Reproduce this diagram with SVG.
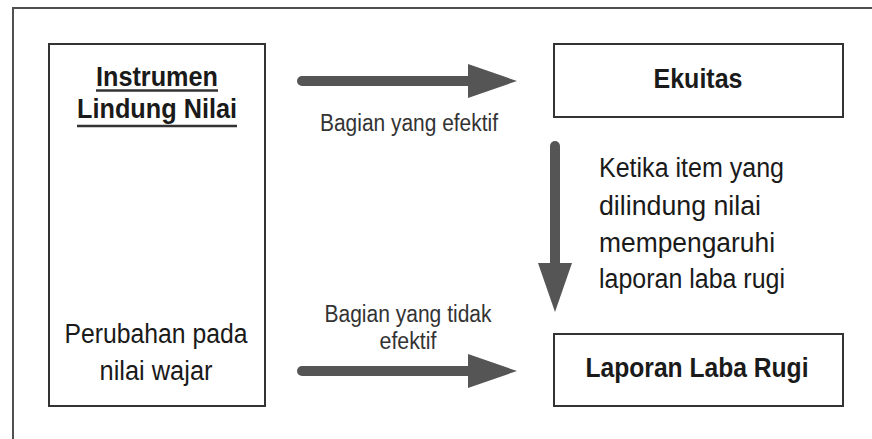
<svg xmlns="http://www.w3.org/2000/svg" width="872" height="439" viewBox="0 0 872 439">
  <style>
    .box { fill: #ffffff; stroke: #333333; stroke-width: 2; }
    .frame { fill: #ffffff; stroke: #505050; stroke-width: 2; }
    .main { font-family: "Liberation Sans", Arial, sans-serif; font-size: 27px; fill: #1a1a1a; }
    .bold { font-weight: bold; }
    .lbl { font-family: "Liberation Sans", Arial, sans-serif; font-size: 23px; fill: #333333; }
    .shaft { stroke: #555555; stroke-width: 10; stroke-linecap: round; fill: none; }
    .ul { stroke: #333333; stroke-width: 2.5; }
  </style>
  <defs>
    <marker id="head" markerUnits="userSpaceOnUse" markerWidth="50" markerHeight="36" refX="0" refY="17" orient="auto">
      <path d="M0,0 L49,17 L0,34 Z" fill="#555555"/>
    </marker>
  </defs>

  <rect id="frame" class="frame" x="13" y="8" width="880" height="450"/>

  <g id="node-instrumen">
    <rect class="box" x="49" y="44" width="216" height="362"/>
    <text class="main bold" x="157" y="86" text-anchor="middle" textLength="122" lengthAdjust="spacingAndGlyphs">Instrumen</text>
    <line class="ul" x1="96" y1="90.5" x2="218" y2="90.5"/>
    <text class="main bold" x="157" y="118" text-anchor="middle" textLength="160" lengthAdjust="spacingAndGlyphs">Lindung Nilai</text>
    <line class="ul" x1="77" y1="126" x2="237" y2="126"/>
    <text class="main" x="156" y="343" text-anchor="middle" textLength="183" lengthAdjust="spacingAndGlyphs">Perubahan pada</text>
    <text class="main" x="156" y="380" text-anchor="middle" textLength="113" lengthAdjust="spacingAndGlyphs">nilai wajar</text>
  </g>

  <g id="node-ekuitas">
    <rect class="box" x="554" y="44" width="289" height="73"/>
    <text class="main bold" x="698" y="88" text-anchor="middle" textLength="89" lengthAdjust="spacingAndGlyphs">Ekuitas</text>
  </g>

  <g id="node-laporan">
    <rect class="box" x="554" y="334" width="289" height="72"/>
    <text class="main bold" x="697" y="377" text-anchor="middle" textLength="223" lengthAdjust="spacingAndGlyphs">Laporan Laba Rugi</text>
  </g>

  <g id="connectors">
    <line class="shaft" x1="302" y1="81" x2="468" y2="81" marker-end="url(#head)"/>
    <line class="shaft" x1="302" y1="371" x2="468" y2="371" marker-end="url(#head)"/>
    <line class="shaft" x1="555" y1="146" x2="555" y2="263" marker-end="url(#head)"/>
    <text class="lbl" x="409" y="131" text-anchor="middle" textLength="178" lengthAdjust="spacingAndGlyphs">Bagian yang efektif</text>
    <text class="lbl" x="408" y="322" text-anchor="middle" textLength="167" lengthAdjust="spacingAndGlyphs">Bagian yang tidak</text>
    <text class="lbl" x="408" y="349" text-anchor="middle" textLength="57" lengthAdjust="spacingAndGlyphs">efektif</text>
    <text class="main" x="599" y="177" textLength="185" lengthAdjust="spacingAndGlyphs">Ketika item yang</text>
    <text class="main" x="599" y="215" textLength="162" lengthAdjust="spacingAndGlyphs">dilindung nilai</text>
    <text class="main" x="599" y="252" textLength="176" lengthAdjust="spacingAndGlyphs">mempengaruhi</text>
    <text class="main" x="599" y="288" textLength="186" lengthAdjust="spacingAndGlyphs">laporan laba rugi</text>
  </g>
</svg>
